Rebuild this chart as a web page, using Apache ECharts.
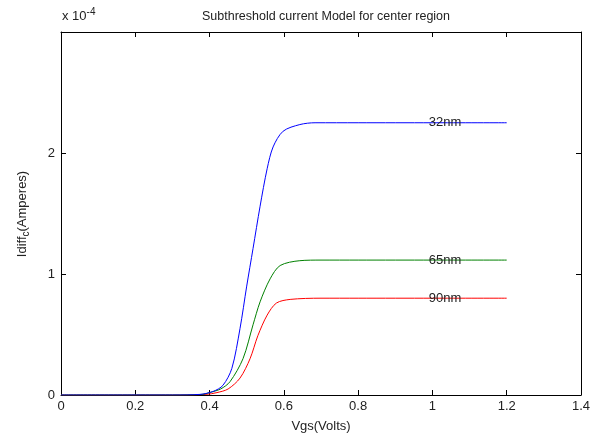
<!DOCTYPE html>
<html>
<head>
<meta charset="utf-8">
<script src="https://cdn.jsdelivr.net/npm/echarts@6/dist/echarts.min.js"></script>
<style>
  html, body { margin: 0; padding: 0; background: #fff; }
  #chart { width: 598px; height: 438px; }
</style>
</head>
<body>
<div id="chart"></div>
<script>
  // current in units of 1e-4 A
  const xTicks = [0, 0.2, 0.4, 0.6, 0.8, 1, 1.2, 1.4]
  const yTicks = [0, 1, 2]

  const vgs32 = [0, 0.3, 0.374, 0.41, 0.436, 0.46, 0.482, 0.5, 0.517, 0.536, 0.555, 0.571, 0.598, 0.643, 0.684, 0.8, 1.0, 1.2]
  const cur32 = [0, 0, 0.005, 0.03, 0.08, 0.22, 0.55, 0.90, 1.21, 1.56, 1.87, 2.05, 2.18, 2.235, 2.25, 2.25, 2.25, 2.25]

  const vgs65 = [0, 0.3, 0.38, 0.40, 0.43, 0.455, 0.49, 0.517, 0.536, 0.563, 0.59, 0.643, 0.7, 0.8, 1.0, 1.2]
  const cur65 = [0, 0, 0.005, 0.02, 0.05, 0.11, 0.30, 0.58, 0.77, 0.96, 1.07, 1.11, 1.115, 1.115, 1.115, 1.115]

  const vgs90 = [0, 0.3, 0.39, 0.42, 0.45, 0.482, 0.509, 0.53, 0.555, 0.58, 0.617, 0.7, 0.8, 1.0, 1.2]
  const cur90 = [0, 0, 0.005, 0.02, 0.05, 0.14, 0.30, 0.49, 0.66, 0.76, 0.79, 0.80, 0.80, 0.80, 0.80]

  const seriesNames = ['32nm', '65nm', '90nm']
  const seriesColors = ['#0000ff', '#008000', '#ff0000']
  const labelX = 0.99

  const zip = (xs, ys) => xs.map((x, i) => [x, ys[i]])
  const curves = [zip(vgs32, cur32), zip(vgs65, cur65), zip(vgs90, cur90)]
  const plateaus = [cur32[cur32.length - 1], cur65[cur65.length - 1], cur90[cur90.length - 1]]

  const font = 'Liberation Sans, Arial, sans-serif'
  const chart = echarts.init(document.getElementById('chart'))

  const axisCommon = {
    axisLine: { show: true, onZero: false, lineStyle: { color: '#000', width: 1 } },
    axisTick: { show: true, inside: true, length: 5, lineStyle: { color: '#000' } },
    splitLine: { show: false }
  }

  chart.setOption({
    animation: false,
    backgroundColor: '#fff',
    textStyle: { fontFamily: font },
    title: {
      text: 'Subthreshold current Model for center region',
      left: 321, top: 5,
      textAlign: 'center',
      textStyle: { fontSize: 12.5, fontWeight: 'normal', color: '#222', fontFamily: font }
    },
    grid: { left: 61, right: 17, top: 32, bottom: 41 },
    xAxis: [{
      type: 'value', min: 0, max: 1.4, interval: 0.2,
      position: 'bottom',
      name: 'Vgs(Volts)', nameLocation: 'middle', nameGap: 25,
      nameTextStyle: { fontSize: 13, color: '#222' },
      axisLabel: { fontSize: 13, color: '#222', margin: 5, formatter: v => String(+v.toFixed(1)) },
      ...axisCommon
    }, {
      type: 'value', min: 0, max: 1.4, interval: 0.2,
      position: 'top',
      axisLabel: { show: false },
      ...axisCommon
    }],
    yAxis: [{
      type: 'value', min: 0, max: 3, interval: 1,
      position: 'left',
      axisLabel: { fontSize: 13, color: '#222', margin: 6, showMaxLabel: false,
        formatter: v => yTicks.indexOf(v) >= 0 ? String(v) : '' },
      ...axisCommon
    }, {
      type: 'value', min: 0, max: 3, interval: 1,
      position: 'right',
      axisLabel: { show: false },
      ...axisCommon
    }],
    graphic: [{
      type: 'text', left: 62, top: 7,
      style: {
        text: 'x 10{sup|-4}',
        rich: { sup: { fontSize: 10, padding: [0, 0, 8, 0], fill: '#222' } },
        fontSize: 13, fill: '#222', fontFamily: font
      }
    }, {
      type: 'text', x: 22, y: 214, rotation: Math.PI / 2,
      style: {
        text: 'Idiff{sub|c}(Amperes)',
        rich: { sub: { fontSize: 10, padding: [9, 0, 0, 0], fill: '#222' } },
        fontSize: 13, fill: '#222', fontFamily: font,
        align: 'center', verticalAlign: 'middle'
      }
    }],
    series: curves.map((data, i) => ({
      name: seriesNames[i],
      type: 'line',
      data: data,
      showSymbol: false,
      smooth: 0.3,
      lineStyle: { color: seriesColors[i], width: 1 },
      itemStyle: { color: seriesColors[i] },
      z: 3 - i,
      markPoint: {
        symbol: 'circle', symbolSize: 0,
        label: {
          show: true, position: 'right', distance: 0,
          formatter: seriesNames[i], fontSize: 13, color: '#222', fontFamily: font
        },
        data: [{ coord: [labelX, plateaus[i]] }]
      }
    }))
  })
</script>
</body>
</html>
